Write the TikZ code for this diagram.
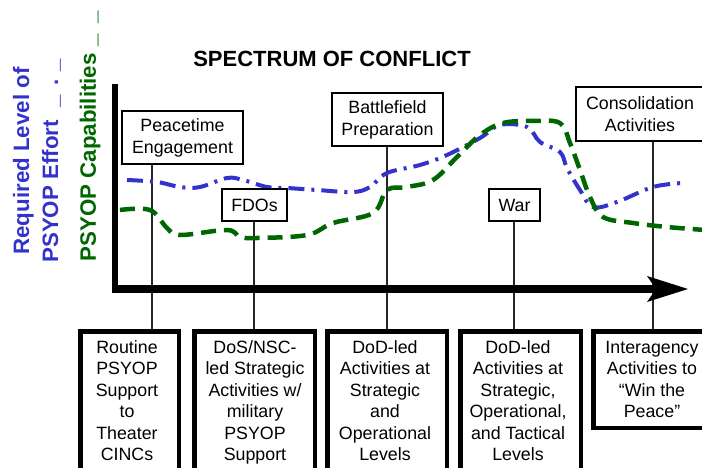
\documentclass[tikz,border=0pt]{standalone}
\usepackage{fontspec}
\setmainfont{Liberation Sans}
\definecolor{effblue}{RGB}{51,51,204}
\definecolor{capgreen}{RGB}{0,102,0}
\begin{document}
\begin{tikzpicture}[x=1pt,y=-1pt,
  topbox/.style={draw, line width=1.3pt, fill=white, inner sep=0pt, align=center,
    font=\fontsize{17.8}{22}\selectfont},
  lowbox/.style={draw, line width=4.5pt, anchor=north west, inner sep=0pt},
  lowtext/.style={anchor=north, align=center, inner sep=0pt,
    font=\fontsize{17.8}{21.5}\selectfont},
  conn/.style={line width=1.1pt, draw=black!85},
  effort/.style={effblue, line width=4pt, dash pattern=on 16pt off 7pt on 3pt off 7pt},
  capab/.style={capgreen, line width=4.5pt, dash pattern=on 15pt off 8pt},
  axislabel/.style={rotate=90, align=center, inner sep=0pt,
    font=\fontsize{22.3}{29}\selectfont\bfseries}]
\useasboundingbox (0,0) rectangle (702,468);
\clip (0,0) rectangle (702,468);

% title
\node[font=\fontsize{22}{26}\selectfont\bfseries] (title) at (332,59) {SPECTRUM OF CONFLICT};

% axis labels
\node[axislabel, text=effblue] (yl1) at (37,161) {Required Level of\\PSYOP Effort\hspace{13pt}\_\hspace{9pt}.\hspace{8pt}\_};
\node[axislabel, text=capgreen] (yl2) at (90,136.5) {PSYOP Capabilities\hspace{7pt}\_\hspace{10pt}\_};

% lower boxes
\node[lowbox, minimum width=98.5pt, minimum height=200pt] (b1) at (78.25,329.25) {};
\node[lowbox, minimum width=120.5pt, minimum height=200pt] (b2) at (192.25,329.25) {};
\node[lowbox, minimum width=119.5pt, minimum height=200pt] (b3) at (325.25,329.25) {};
\node[lowbox, minimum width=120.5pt, minimum height=200pt] (b4) at (458.25,329.25) {};
\node[lowbox, minimum width=130pt, minimum height=96.5pt] (b5) at (591.25,329.25) {};

\node[lowtext] (t1) at (127,340) {Routine\\PSYOP\\Support\\to\\Theater\\CINCs};
\node[lowtext] (t2) at (255,340) {DoS/NSC-\\led Strategic\\Activities w/\\military\\PSYOP\\Support};
\node[lowtext] (t3) at (385,340) {DoD-led\\Activities at\\Strategic\\and\\Operational\\Levels};
\node[lowtext] (t4) at (518,340) {DoD-led\\Activities at\\Strategic,\\Operational,\\and Tactical\\Levels};
\node[lowtext] (t5) at (652,341) {Interagency\\Activities to\\“Win the\\Peace”};

% top boxes (nodes defined first for connectors)
\node[topbox, minimum width=121pt, minimum height=53pt] (pe) at (182.5,137.5) {Peacetime\\Engagement};
\node[topbox, minimum width=65pt, minimum height=32pt] (fdo) at (254.5,205) {FDOs};
\node[topbox, minimum width=111pt, minimum height=53pt] (bp) at (387.5,119.5) {Battlefield\\Preparation};
\node[topbox, minimum width=51pt, minimum height=32pt] (war) at (514.5,205) {War};
\node[topbox, minimum width=128pt, minimum height=54pt] (ca) at (640,114) {Consolidation\\Activities};

% connectors
\coordinate (c1) at (152,0);
\coordinate (c2) at (254,0);
\coordinate (c3) at (387,0);
\coordinate (c4) at (514,0);
\coordinate (c5) at (653,0);
\draw[conn] (pe.south -| c1) -- (b1.north -| c1);
\draw[conn] (fdo.south -| c2) -- (b2.north -| c2);
\draw[conn] (bp.south -| c3) -- (b3.north -| c3);
\draw[conn] (war.south -| c4) -- (b4.north -| c4);
\draw[conn] (ca.south -| c5) -- (b5.north -| c5);

% curves
\draw[effort] plot[smooth, tension=0.6] coordinates {(127,180) (157,182) (180,187) (200,187) (227,178) (243,180) (267,187) (287,188) (317,190) (353,192) (370,187) (387,173) (420,165) (447,155) (480,138) (500,125) (527,127) (540,142) (560,152) (567,168) (580,190) (593,207) (617,202) (653,187) (683,183)};
\draw[capab] plot[smooth, tension=0.6] coordinates {(120,210) (150,210) (167,228) (180,235) (227,230) (240,237) (257,238) (307,235) (333,223) (373,213) (387,190) (407,187) (433,180) (457,157) (480,135) (503,123) (533,121) (560,123) (570,143) (580,170) (590,197) (603,217) (633,223) (667,227) (705,230)};

% redraw top boxes over curves
\node[topbox, minimum width=121pt, minimum height=53pt] at (182.5,137.5) {Peacetime\\Engagement};
\node[topbox, minimum width=65pt, minimum height=32pt] at (254.5,205) {FDOs};
\node[topbox, minimum width=111pt, minimum height=53pt] at (387.5,119.5) {Battlefield\\Preparation};
\node[topbox, minimum width=51pt, minimum height=32pt] at (514.5,205) {War};
\node[topbox, minimum width=128pt, minimum height=54pt] at (640,114) {Consolidation\\Activities};

% axes
\draw[line width=6pt] (115,84) -- (115,292);
\draw[line width=8pt] (112,289) -- (656,289);
\fill (688,289) -- (647,276) -- (656,289) -- (647,302) -- cycle;
\end{tikzpicture}
\end{document}
